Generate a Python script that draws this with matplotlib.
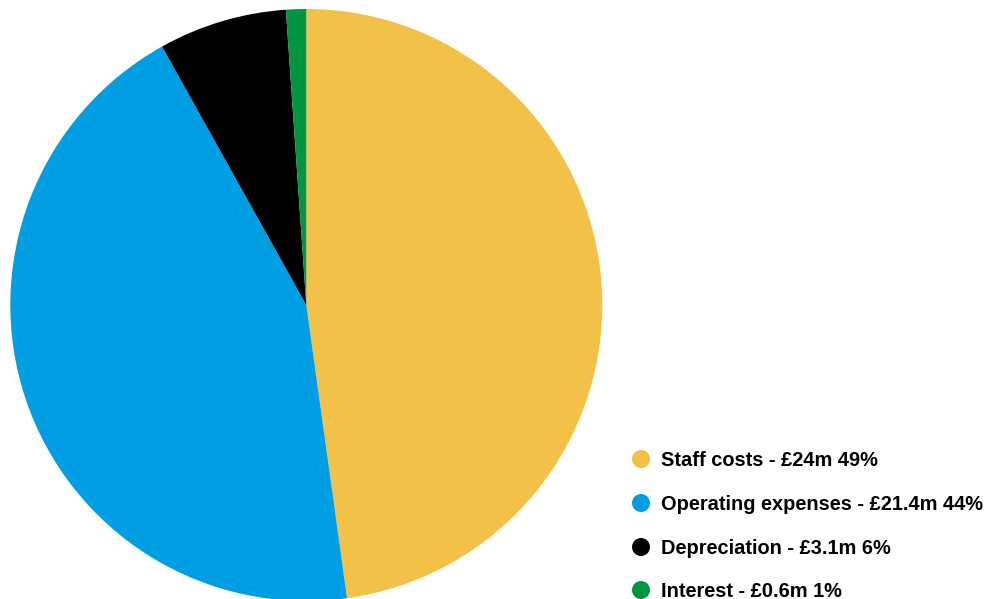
import matplotlib
matplotlib.use("Agg")
import matplotlib.pyplot as plt

labels = ["Staff costs - £24m 49%", "Operating expenses - £21.4m 44%",
          "Depreciation - £3.1m 6%", "Interest - £0.6m 1%"]
# shares as drawn in the picture (degrees of the pie converted to %)
shares = [47.8, 44.1, 7.0, 1.1]
colors = ["#F4C148", "#009FE3", "#000000", "#009640"]

W, H = 994, 599
fig = plt.figure(figsize=(W / 100, H / 100), dpi=100)
plt.rcParams['font.family'] = ['Liberation Sans', 'DejaVu Sans']

cx, cy, r = 306.3, 305.0, 296.0
ax = fig.add_axes([(cx - r) / W, (H - cy - r) / H, 2 * r / W, 2 * r / H])
ax.pie(shares, colors=colors, startangle=90, counterclock=False,
       radius=1.0, wedgeprops=dict(linewidth=0))
ax.set_xlim(-1, 1)
ax.set_ylim(-1, 1)
ax.set_aspect('equal')
ax.axis('off')

rows_y = [459, 503, 547, 590]
for lab, col, yy in zip(labels, colors, rows_y):
    fig.patches.append(matplotlib.patches.Ellipse(
        (641 / W, (H - yy) / H), 18 / W, 18 / H, transform=fig.transFigure,
        facecolor=col, edgecolor='none'))
    fig.text(661 / W, (H - yy - 1.5) / H, lab, fontsize=14.45, fontweight='bold',
             color='#000000', va='center', ha='left')

fig.savefig("out.png", dpi=100)
